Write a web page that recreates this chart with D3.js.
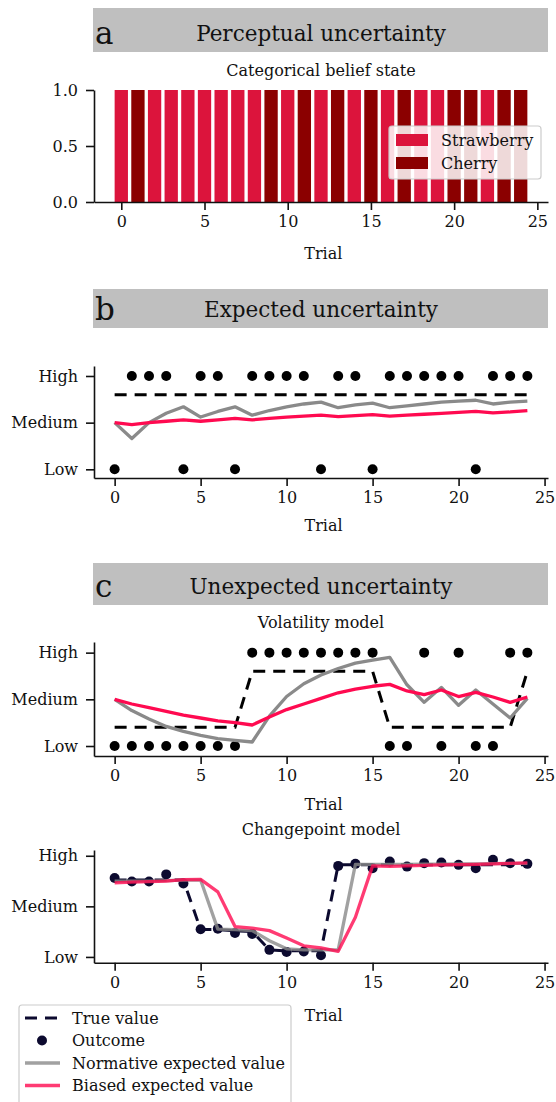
<!DOCTYPE html>
<html>
<head>
<meta charset="utf-8">
<script src="https://cdn.jsdelivr.net/npm/d3@7"></script>
<style>
  body { margin: 0; background: #fff; }
  text { font-family: "DejaVu Serif", serif; fill: #111; }
</style>
</head>
<body>
<script>
// ---- data ----
let trials = [0, 1, 2, 3, 4, 5, 6, 7, 8, 9, 10, 11, 12, 13, 14, 15, 16, 17, 18, 19, 20, 21, 22, 23, 24];
let xTicks = [0, 5, 10, 15, 20, 25];
let levelTicks = [0, 0.5, 1];
let levelLabels = ["Low", "Medium", "High"];

// panel a: 1 = cherry, 0 = strawberry
let fruitCategories = ["Strawberry", "Cherry"];
let fruit = [0, 1, 0, 0, 0, 0, 0, 0, 0, 1, 0, 1, 0, 1, 0, 1, 0, 1, 0, 0, 1, 1, 0, 1, 1];

// panel b: expected uncertainty
let euOutcome = [0, 1, 1, 1, 0, 1, 1, 0, 1, 1, 1, 1, 0, 1, 1, 0, 1, 1, 1, 1, 1, 0, 1, 1, 1];
let euTrue = [0.8, 0.8, 0.8, 0.8, 0.8, 0.8, 0.8, 0.8, 0.8, 0.8, 0.8, 0.8, 0.8, 0.8, 0.8, 0.8, 0.8, 0.8, 0.8, 0.8, 0.8, 0.8, 0.8, 0.8, 0.8];
let euNormative = [0.5, 0.33, 0.5, 0.6, 0.67, 0.56, 0.62, 0.67, 0.58, 0.63, 0.67, 0.7, 0.72, 0.66, 0.69, 0.71, 0.66, 0.68, 0.7, 0.72, 0.73, 0.74, 0.7, 0.72, 0.73];
let euBiased = [0.5, 0.48, 0.5, 0.515, 0.53, 0.515, 0.53, 0.545, 0.53, 0.545, 0.56, 0.57, 0.58, 0.565, 0.575, 0.585, 0.57, 0.58, 0.59, 0.6, 0.61, 0.62, 0.605, 0.615, 0.63];

// panel c: volatility model
let volOutcome = [0, 0, 0, 0, 0, 0, 0, 0, 1, 1, 1, 1, 1, 1, 1, 1, 0, 0, 1, 0, 1, 0, 0, 1, 1];
let volTrue = [0.2, 0.2, 0.2, 0.2, 0.2, 0.2, 0.2, 0.2, 0.8, 0.8, 0.8, 0.8, 0.8, 0.8, 0.8, 0.8, 0.2, 0.2, 0.2, 0.2, 0.2, 0.2, 0.2, 0.2, 0.8];
let volNormative = [0.5, 0.38, 0.29, 0.21, 0.156, 0.113, 0.08, 0.06, 0.043, 0.32, 0.53, 0.667, 0.76, 0.83, 0.887, 0.92, 0.95, 0.656, 0.468, 0.628, 0.436, 0.6, 0.45, 0.3, 0.51];
let volBiased = [0.5, 0.45, 0.41, 0.37, 0.33, 0.3, 0.27, 0.25, 0.225, 0.31, 0.39, 0.45, 0.51, 0.57, 0.61, 0.64, 0.66, 0.59, 0.55, 0.6, 0.53, 0.575, 0.525, 0.468, 0.525];

// panel c: changepoint model
let cpOutcome = [0.78, 0.745, 0.745, 0.816, 0.727, 0.274, 0.278, 0.237, 0.227, 0.07, 0.05, 0.053, 0.017, 0.9, 0.92, 0.877, 0.943, 0.893, 0.927, 0.933, 0.91, 0.877, 0.96, 0.927, 0.92];
let cpTrue = [0.76, 0.76, 0.76, 0.76, 0.76, 0.27, 0.27, 0.26, 0.25, 0.07, 0.06, 0.06, 0.06, 0.91, 0.91, 0.91, 0.91, 0.91, 0.91, 0.91, 0.91, 0.91, 0.91, 0.91, 0.91];
let cpNormative = [0.75, 0.75, 0.75, 0.755, 0.76, 0.76, 0.275, 0.27, 0.26, 0.16, 0.08, 0.07, 0.07, 0.07, 0.915, 0.915, 0.915, 0.915, 0.917, 0.918, 0.92, 0.92, 0.922, 0.925, 0.925];
let cpBiased = [0.733, 0.74, 0.745, 0.75, 0.765, 0.767, 0.643, 0.3, 0.285, 0.26, 0.187, 0.11, 0.09, 0.055, 0.393, 0.9, 0.895, 0.9, 0.905, 0.91, 0.912, 0.915, 0.92, 0.925, 0.93];

let legendLabels = ["True value", "Outcome", "Normative expected value", "Biased expected value"];

// ---- styles ----
const cStraw = "#DC143C", cCherry = "#8B0000";
const cRed = "#ff0a50", cGray = "#8a8a8a", cNavy = "#0c0a2f";
const fs = 16;

let width = 556, height = 1102;
let svg = d3.select("body").append("svg")
    .attr("width", width)
    .attr("height", height);

const header = function (top, bottom, letter, title) {
    svg.append("rect").attr("x", 93).attr("y", top).attr("width", 455).attr("height", bottom - top)
        .attr("fill", "#bfbfbf");
    svg.append("text").attr("x", 95).attr("y", bottom - 8).attr("font-size", 31).text(letter);
    svg.append("text").attr("x", 321).attr("y", bottom - 11).attr("text-anchor", "middle")
        .attr("font-size", 21.5).text(title);
};

const subtitle = function (y, t) {
    svg.append("text").attr("x", 321).attr("y", y).attr("text-anchor", "middle")
        .attr("font-size", fs).text(t);
};

const styleAxis = function (g) {
    g.select(".domain").attr("stroke", "#111").attr("stroke-width", 1.6);
    g.selectAll(".tick line").attr("stroke", "#111").attr("stroke-width", 1.6);
    g.selectAll(".tick text").attr("font-family", "DejaVu Serif").attr("font-size", fs).attr("fill", "#111");
};

const drawAxes = function (x, y, yTicks, yFmt, trialY) {
    let bottom = y.range()[0];
    let gx = svg.append("g").attr("transform", `translate(0,${bottom})`)
        .call(d3.axisBottom(x).tickValues(xTicks).tickSize(8).tickSizeOuter(0).tickPadding(6));
    styleAxis(gx);
    let gy = svg.append("g").attr("transform", `translate(${x.range()[0]},0)`)
        .call(d3.axisLeft(y).tickValues(yTicks).tickFormat(yFmt).tickSize(8).tickSizeOuter(0).tickPadding(8));
    styleAxis(gy);
    if (trialY) {
        svg.append("text").attr("x", (x(0) + x(25)) / 2 - 6).attr("y", trialY).attr("text-anchor", "middle")
            .attr("font-size", fs).text("Trial");
    }
};

const drawLines = function (x, y, trueV, outcome, normative, biased, dotColor, alpha) {
    let line = d3.line().x((d, i) => x(trials[i])).y(d => y(d));
    let g = svg.append("g");
    g.append("path").datum(trueV).attr("d", line).attr("fill", "none")
        .attr("stroke", dotColor).attr("stroke-width", 3).attr("stroke-dasharray", "12,8");
    g.selectAll("circle").data(outcome).enter().append("circle")
        .attr("cx", (d, i) => x(trials[i])).attr("cy", d => y(d)).attr("r", 5).attr("fill", dotColor);
    g.append("path").datum(normative).attr("d", line).attr("fill", "none")
        .attr("stroke", cGray).attr("stroke-width", 3.3).attr("stroke-opacity", alpha).attr("stroke-linejoin", "round");
    g.append("path").datum(biased).attr("d", line).attr("fill", "none")
        .attr("stroke", cRed).attr("stroke-width", 3.3).attr("stroke-opacity", alpha).attr("stroke-linejoin", "round");
};

const levelFmt = d => levelLabels[levelTicks.indexOf(d)];

// ---- panel a ----
header(8, 52, "a", "Perceptual uncertainty");
subtitle(76, "Categorical belief state");
let xa = d3.scaleLinear().domain([-1.64, 25.64]).range([94, 548]);
let ya = d3.scaleLinear().domain([0, 1]).range([202, 90]);
svg.append("g").selectAll("rect").data(fruit).enter().append("rect")
    .attr("x", (d, i) => xa(trials[i] - 0.4))
    .attr("width", xa(0.8) - xa(0))
    .attr("y", ya(1))
    .attr("height", ya(0) - ya(1))
    .attr("fill", d => d === 1 ? cCherry : cStraw);
drawAxes(xa, ya, [0, 0.5, 1], d3.format(".1f"), 259);
// legend a
let la = svg.append("g");
la.append("rect").attr("x", 389).attr("y", 126).attr("width", 152).attr("height", 53).attr("rx", 3)
    .attr("fill", "#fff").attr("fill-opacity", 0.85).attr("stroke", "#cccccc").attr("stroke-width", 1.2);
fruitCategories.forEach((c, i) => {
    la.append("rect").attr("x", 396).attr("y", 134 + i * 23).attr("width", 32).attr("height", 12)
        .attr("fill", i === 1 ? cCherry : cStraw);
    la.append("text").attr("x", 441).attr("y", 146 + i * 23).attr("font-size", fs).text(c);
});

// ---- panel b ----
header(289, 328, "b", "Expected uncertainty");
let xb = d3.scaleLinear().domain([-1.2, 25.2]).range([94, 548]);
let yb = d3.scaleLinear().domain([-0.093, 1.107]).range([478, 366]);
drawLines(xb, yb, euTrue, euOutcome, euNormative, euBiased, "#000", 1);
drawAxes(xb, yb, levelTicks, levelFmt, 531);

// ---- panel c ----
header(563, 605, "c", "Unexpected uncertainty");
subtitle(628, "Volatility model");
let yc = d3.scaleLinear().domain([-0.107, 1.114]).range([756, 642]);
drawLines(xb, yc, volTrue, volOutcome, volNormative, volBiased, "#000", 1);
drawAxes(xb, yc, levelTicks, levelFmt, 810);

subtitle(835, "Changepoint model");
let yd = d3.scaleLinear().domain([-0.057, 1.057]).range([962.7, 850]);
drawLines(xb, yd, cpTrue, cpOutcome, cpNormative, cpBiased, cNavy, 0.8);
drawAxes(xb, yd, levelTicks, levelFmt, 1021);

// ---- shared legend ----
let lg = svg.append("g");
lg.append("rect").attr("x", 19).attr("y", 1005).attr("width", 272).attr("height", 110).attr("rx", 3)
    .attr("fill", "#fff").attr("fill-opacity", 0.85).attr("stroke", "#cccccc").attr("stroke-width", 1.2);
legendLabels.forEach((t, i) => {
    let yy = 1018 + i * 22.5;
    if (i === 0) {
        lg.append("line").attr("x1", 25).attr("x2", 60).attr("y1", yy).attr("y2", yy)
            .attr("stroke", cNavy).attr("stroke-width", 3).attr("stroke-dasharray", "12,8");
    } else if (i === 1) {
        lg.append("circle").attr("cx", 42).attr("cy", yy).attr("r", 5).attr("fill", cNavy);
    } else {
        lg.append("line").attr("x1", 25).attr("x2", 60).attr("y1", yy).attr("y2", yy)
            .attr("stroke", i === 2 ? cGray : cRed).attr("stroke-opacity", 0.8).attr("stroke-width", 3.3);
    }
    lg.append("text").attr("x", 72).attr("y", yy + 5.5).attr("font-size", fs).text(t);
});
</script>
</body>
</html>
